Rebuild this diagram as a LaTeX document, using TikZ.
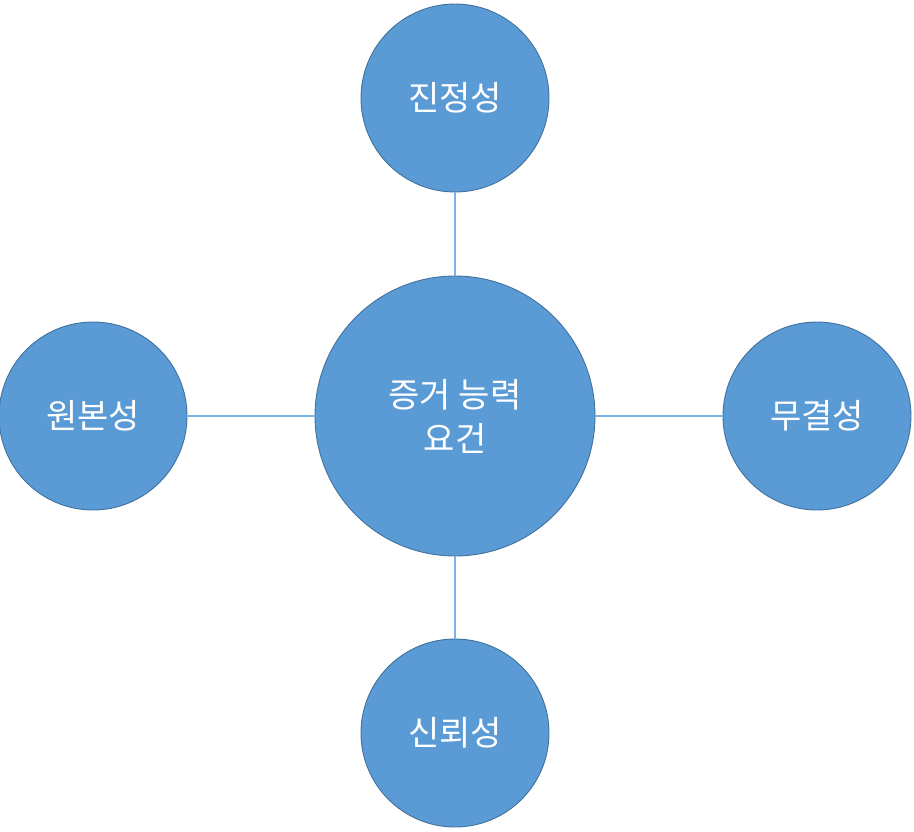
\documentclass[tikz,border=0pt]{standalone}
\usepackage{fontspec}
\newfontfamily\kr{Noto Sans CJK KR}
\definecolor{cfill}{HTML}{5B9BD5}
\definecolor{cdraw}{HTML}{41719C}
\definecolor{cline}{HTML}{7DB4E8}
\begin{document}
\begin{tikzpicture}[x=1pt,y=-1pt,
  bubble/.style={circle,fill=cfill,draw=cdraw,line width=0.9pt,inner sep=0pt,
    text=white,font=\kr\fontsize{34}{44}\selectfont,align=center},
  small/.style={bubble,minimum size=188pt},
  big/.style={bubble,minimum size=280pt},
  link/.style={draw=cline,line width=1.2pt}]
\useasboundingbox (0,0) rectangle (914,831);
\node[big] (c) at (455,416) {증거 능력\\요건};
\node[small] (t) at (455,98) {진정성};
\node[small] (b) at (455,733) {신뢰성};
\node[small] (l) at (93,416) {원본성};
\node[small] (r) at (817,416) {무결성};
\path[link] (t.south) -- (c.north);
\path[link] (b.north) -- (c.south);
\path[link] (l.east) -- (c.west);
\path[link] (r.west) -- (c.east);
\end{tikzpicture}
\end{document}
